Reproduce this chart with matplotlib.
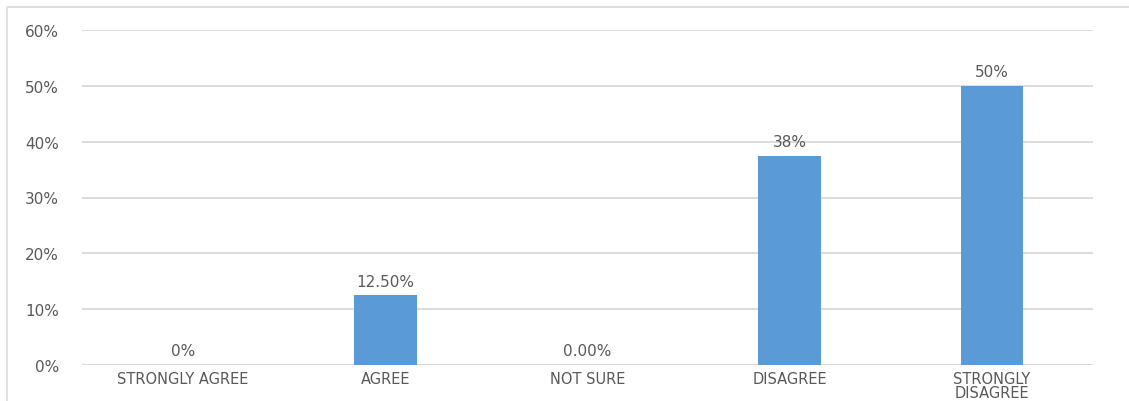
import matplotlib
matplotlib.use("Agg")
import matplotlib.pyplot as plt
from matplotlib.patches import Rectangle

categories = ["STRONGLY AGREE", "AGREE", "NOT SURE", "DISAGREE", "STRONGLY\nDISAGREE"]
values = [0.0, 0.125, 0.0, 0.375, 0.50]
labels = ["0%", "12.50%", "0.00%", "38%", "50%"]
yticks = [0, 0.1, 0.2, 0.3, 0.4, 0.5, 0.6]
ytick_labels = ["0%", "10%", "20%", "30%", "40%", "50%", "60%"]

plt.rcParams['font.family'] = ['DejaVu Sans']
gray = "#595959"
fs = 11

fig = plt.figure(figsize=(11.29, 4.02), dpi=100)
fig.patches.append(Rectangle((7/1129, -0.1), 1.2, 1 - 8/402 + 0.1, transform=fig.transFigure,
                             fill=False, edgecolor="#d9d9d9", linewidth=1.2))
ax = fig.add_axes([82/1129, 1 - 366/402, (1093 - 82)/1129, (366 - 31)/402])

x = list(range(len(categories)))
ax.bar(x, values, width=0.31, color="#5B9BD5", zorder=3)
for xi, v, lab in zip(x, values, labels):
    ax.text(xi, v + 0.012, lab, ha="center", va="bottom", fontsize=fs, color=gray)

ax.set_xlim(-0.5, len(categories) - 0.5)
ax.set_ylim(0, 0.6)
ax.set_yticks(yticks)
ax.set_yticklabels(ytick_labels, fontsize=fs, color=gray)
ax.set_xticks(x)
ax.set_xticklabels(categories, fontsize=10.5, color=gray, linespacing=0.95)
ax.yaxis.grid(True, color="#d9d9d9", linewidth=1.3, zorder=0)
ax.tick_params(axis="both", length=0)
ax.tick_params(axis="y", pad=16.5)
ax.tick_params(axis="x", pad=4)
for s in ax.spines.values():
    s.set_visible(False)
ax.axhline(0, color="#d9d9d9", linewidth=1.3, zorder=2)

fig.savefig("out.png", dpi=100)
